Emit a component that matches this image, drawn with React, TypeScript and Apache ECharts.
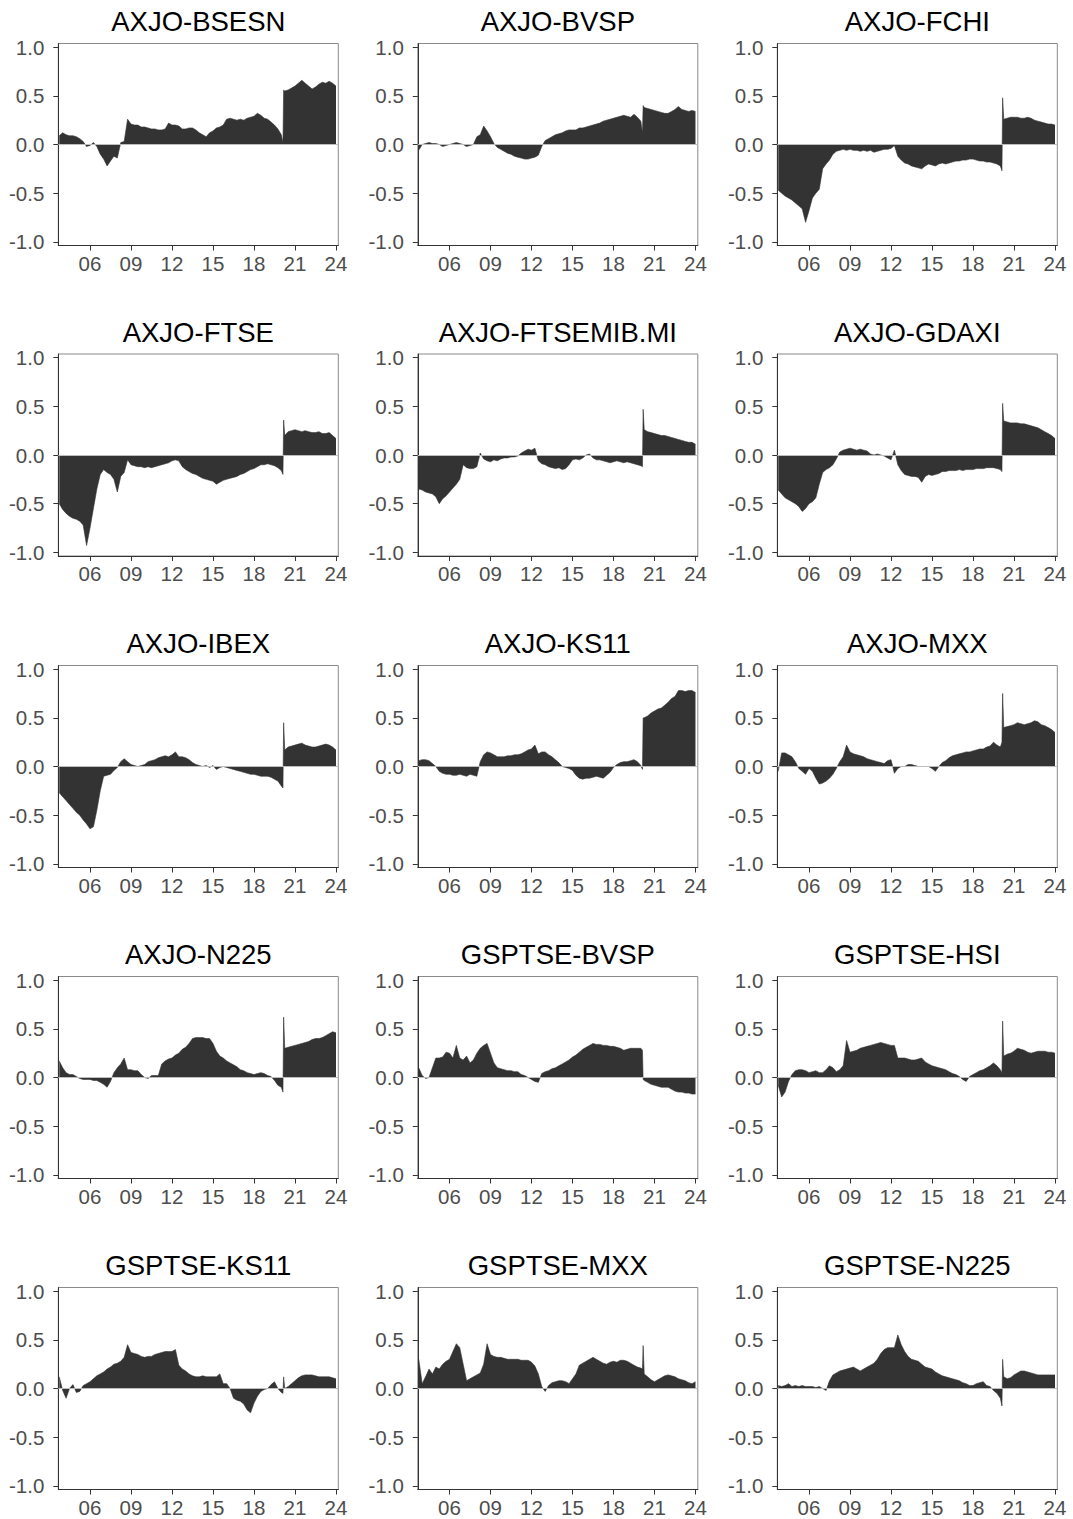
import React, { useEffect, useRef } from "react";
import * as echarts from "echarts";

// time index: quarterly from 2003.75, with extra points around the March 2020 break
const T: number[] = (() => {
  const t: number[] = [2003.75];
  for (let y = 2004; y <= 2019; y++) t.push(y, y + 0.25, y + 0.5, y + 0.75);
  t.push(2020, 2020.12, 2020.17, 2020.25, 2020.5, 2020.75);
  for (let y = 2021; y <= 2023; y++) t.push(y, y + 0.25, y + 0.5, y + 0.75);
  t.push(2024);
  return t;
})();

const X_TICKS = [2006, 2009, 2012, 2015, 2018, 2021, 2024];
const Y_TICKS = [-1, -0.5, 0, 0.5, 1];

const AXJO_BSESN = [0.09,
  0.12, 0.1, 0.09, 0.09,
  0.08, 0.06, 0.03, -0.02,
  -0.01, 0.02, -0.02, -0.1,
  -0.15, -0.22, -0.17, -0.12,
  -0.14, 0.02, 0.03, 0.26,
  0.21, 0.2, 0.2, 0.18,
  0.18, 0.17, 0.16, 0.16,
  0.15, 0.15, 0.16, 0.22,
  0.2, 0.2, 0.19, 0.16,
  0.16, 0.17, 0.17, 0.15,
  0.12, 0.1, 0.08, 0.12,
  0.14, 0.17, 0.18, 0.2,
  0.26, 0.27, 0.26, 0.25,
  0.26, 0.25, 0.27, 0.28,
  0.29, 0.32, 0.3, 0.27,
  0.26, 0.23, 0.2, 0.16,
  0.1, 0.02, 0.56, 0.55, 0.56, 0.58,
  0.6, 0.63, 0.66, 0.63,
  0.6, 0.57, 0.59, 0.62,
  0.64, 0.63, 0.65, 0.63,
  0.6];

const AXJO_BVSP = [-0.06,
  0.0, 0.01, 0.02, 0.01,
  0.01, 0.0, -0.02, -0.01,
  0.0, 0.01, 0.02, 0.01,
  0.0, -0.02, -0.01, 0.0,
  0.08, 0.1, 0.19, 0.14,
  0.08, 0.01, -0.03, -0.05,
  -0.07, -0.09, -0.1, -0.12,
  -0.13, -0.14, -0.15, -0.15,
  -0.14, -0.13, -0.11, -0.02,
  0.04, 0.06, 0.08, 0.1,
  0.11, 0.12, 0.14, 0.15,
  0.15, 0.15, 0.17, 0.17,
  0.18, 0.19, 0.2, 0.21,
  0.22, 0.24, 0.25, 0.26,
  0.27, 0.28, 0.29, 0.3,
  0.29, 0.28, 0.31, 0.28,
  0.24, 0.12, 0.4, 0.38, 0.37, 0.36,
  0.35, 0.34, 0.33, 0.32,
  0.32, 0.34, 0.36, 0.39,
  0.36, 0.35, 0.34, 0.35,
  0.34];

const AXJO_FCHI = [-0.47,
  -0.5, -0.53, -0.55, -0.57,
  -0.6, -0.63, -0.66, -0.8,
  -0.68, -0.55, -0.5, -0.46,
  -0.25, -0.2, -0.16, -0.1,
  -0.07, -0.06, -0.05, -0.06,
  -0.05, -0.06, -0.06, -0.07,
  -0.06, -0.07, -0.06, -0.08,
  -0.07, -0.06, -0.05, -0.05,
  -0.04, -0.01, -0.12, -0.16,
  -0.19, -0.2, -0.22, -0.23,
  -0.24, -0.25, -0.22, -0.2,
  -0.21, -0.22, -0.2, -0.19,
  -0.2, -0.19, -0.18, -0.17,
  -0.17, -0.16, -0.16, -0.15,
  -0.15, -0.16, -0.17, -0.17,
  -0.18, -0.18, -0.19, -0.2,
  -0.22, -0.27, 0.48, 0.26, 0.27, 0.28,
  0.28, 0.28, 0.27, 0.27,
  0.28, 0.27, 0.25, 0.24,
  0.23, 0.22, 0.21, 0.21,
  0.2];

const AXJO_FTSE = [-0.5,
  -0.56, -0.6, -0.63, -0.65,
  -0.66, -0.68, -0.72, -0.93,
  -0.75, -0.55, -0.35, -0.2,
  -0.15, -0.18, -0.2, -0.25,
  -0.38, -0.22, -0.18, -0.05,
  -0.1, -0.11, -0.12, -0.12,
  -0.13, -0.12, -0.13, -0.12,
  -0.11, -0.1, -0.09, -0.08,
  -0.06, -0.05, -0.06, -0.12,
  -0.15, -0.17, -0.19, -0.2,
  -0.22, -0.24, -0.25, -0.26,
  -0.27, -0.3, -0.28, -0.26,
  -0.25, -0.24, -0.23, -0.22,
  -0.2, -0.19, -0.17, -0.15,
  -0.14, -0.12, -0.1, -0.1,
  -0.09, -0.1, -0.11, -0.13,
  -0.16, -0.2, 0.36, 0.2, 0.24, 0.25,
  0.26, 0.25, 0.24, 0.25,
  0.24, 0.23, 0.23, 0.24,
  0.22, 0.22, 0.23, 0.2,
  0.17];

const AXJO_FTSEMIB = [-0.35,
  -0.36, -0.38, -0.39, -0.4,
  -0.43, -0.5, -0.45, -0.42,
  -0.38, -0.34, -0.3, -0.25,
  -0.1, -0.13, -0.14, -0.14,
  -0.12, 0.02, -0.04, -0.06,
  -0.07, -0.05, -0.06, -0.04,
  -0.03, -0.03, -0.02, -0.02,
  -0.01, 0.02, 0.04, 0.06,
  0.05, 0.07, -0.06, -0.09,
  -0.1, -0.12, -0.13, -0.14,
  -0.13, -0.15, -0.14, -0.1,
  -0.05, -0.04, -0.05, -0.03,
  0.0, 0.01, -0.03, -0.05,
  -0.05, -0.06, -0.07, -0.08,
  -0.07, -0.06, -0.07, -0.08,
  -0.07, -0.08, -0.09, -0.1,
  -0.11, -0.12, 0.47, 0.26, 0.24, 0.23,
  0.22, 0.21, 0.2, 0.2,
  0.19, 0.18, 0.17, 0.16,
  0.15, 0.14, 0.13, 0.13,
  0.11];

const AXJO_GDAXI = [-0.36,
  -0.4, -0.44, -0.46, -0.48,
  -0.5, -0.53, -0.58, -0.55,
  -0.5, -0.48, -0.44, -0.3,
  -0.18, -0.15, -0.13, -0.1,
  -0.04, 0.03, 0.05, 0.06,
  0.07, 0.06, 0.05, 0.06,
  0.05, 0.04, 0.01, 0.0,
  0.01, 0.0, -0.01, -0.03,
  -0.05, 0.05, -0.1, -0.16,
  -0.2, -0.21, -0.22, -0.22,
  -0.23, -0.28, -0.22, -0.2,
  -0.21, -0.2, -0.19, -0.17,
  -0.17, -0.16, -0.16, -0.16,
  -0.15, -0.16, -0.15, -0.15,
  -0.15, -0.14, -0.14, -0.14,
  -0.13, -0.13, -0.13, -0.14,
  -0.15, -0.17, 0.53, 0.35, 0.34, 0.33,
  0.33, 0.33, 0.32, 0.32,
  0.31, 0.3, 0.29, 0.28,
  0.26, 0.24, 0.22, 0.2,
  0.17];

const AXJO_IBEX = [-0.27,
  -0.31, -0.35, -0.39, -0.43,
  -0.47, -0.5, -0.55, -0.59,
  -0.64, -0.62, -0.45, -0.25,
  -0.1, -0.09, -0.08, -0.04,
  -0.01, 0.05, 0.08, 0.05,
  0.02, 0.01, 0.0, 0.01,
  0.02, 0.05, 0.06, 0.07,
  0.09, 0.1, 0.11, 0.1,
  0.12, 0.15, 0.1, 0.1,
  0.09, 0.07, 0.04, 0.02,
  0.01, 0.0, 0.01, -0.01,
  0.01, -0.03, -0.01, 0.0,
  -0.01, -0.02, -0.03, -0.04,
  -0.05, -0.06, -0.07, -0.08,
  -0.08, -0.09, -0.1, -0.1,
  -0.1, -0.11, -0.13, -0.15,
  -0.2, -0.22, 0.45, 0.17, 0.2, 0.21,
  0.22, 0.23, 0.24, 0.22,
  0.21, 0.2, 0.2, 0.21,
  0.22, 0.23, 0.22, 0.2,
  0.17];

const AXJO_KS11 = [0.06,
  0.07, 0.07, 0.06, 0.03,
  0.0, -0.05, -0.07, -0.08,
  -0.08, -0.09, -0.09, -0.08,
  -0.09, -0.1, -0.08, -0.09,
  -0.1, 0.05, 0.12, 0.15,
  0.14, 0.12, 0.1, 0.1,
  0.1, 0.11, 0.11, 0.12,
  0.12, 0.13, 0.15, 0.17,
  0.18, 0.22, 0.13, 0.15,
  0.15, 0.12, 0.1, 0.07,
  0.04, 0.0, -0.01, -0.02,
  -0.04, -0.09, -0.12, -0.13,
  -0.12, -0.12, -0.11, -0.1,
  -0.11, -0.12, -0.09, -0.06,
  -0.01, 0.02, 0.04, 0.05,
  0.05, 0.06, 0.07, 0.05,
  0.01, -0.03, 0.5, 0.5, 0.52, 0.55,
  0.57, 0.59, 0.6, 0.63,
  0.66, 0.7, 0.72, 0.78,
  0.78, 0.77, 0.78, 0.78,
  0.76];

const AXJO_MXX = [-0.05,
  0.14, 0.14, 0.12, 0.1,
  0.05, -0.02, -0.05, -0.08,
  -0.02, -0.05, -0.12, -0.18,
  -0.17, -0.15, -0.12, -0.08,
  -0.02, 0.05, 0.1, 0.22,
  0.15, 0.13, 0.12, 0.11,
  0.1, 0.08, 0.07, 0.06,
  0.05, 0.04, 0.03, 0.06,
  0.07, -0.07, -0.02, 0.0,
  0.0, 0.02, 0.02, 0.01,
  0.0, 0.0, 0.0, 0.0,
  -0.02, -0.05, 0.0, 0.04,
  0.06, 0.09, 0.11, 0.12,
  0.13, 0.14, 0.15, 0.15,
  0.16, 0.17, 0.18, 0.18,
  0.2, 0.21, 0.25, 0.22,
  0.2, 0.25, 0.75, 0.4, 0.41, 0.42,
  0.43, 0.45, 0.44, 0.43,
  0.44, 0.45, 0.47, 0.46,
  0.43, 0.42, 0.4, 0.38,
  0.35];

const AXJO_N225 = [0.17,
  0.1, 0.05, 0.03, 0.03,
  0.01, -0.01, -0.02, -0.02,
  -0.02, -0.03, -0.03, -0.05,
  -0.07, -0.1, -0.04, 0.05,
  0.1, 0.14, 0.2, 0.08,
  0.08, 0.07, 0.07, 0.03,
  0.0, -0.01, 0.02, 0.02,
  0.02, 0.14, 0.17, 0.19,
  0.2, 0.23, 0.25, 0.29,
  0.31, 0.35, 0.4, 0.41,
  0.41, 0.41, 0.4, 0.4,
  0.35, 0.27, 0.22, 0.2,
  0.17, 0.15, 0.13, 0.11,
  0.08, 0.07, 0.05, 0.04,
  0.03, 0.04, 0.05, 0.04,
  0.02, 0.01, -0.03, -0.08,
  -0.1, -0.15, 0.62, 0.3, 0.31, 0.32,
  0.33, 0.34, 0.35, 0.36,
  0.37, 0.39, 0.4, 0.4,
  0.41, 0.43, 0.45, 0.47,
  0.46];

const GSPTSE_BVSP = [0.1,
  0.02, -0.01, 0.0, 0.1,
  0.2, 0.2, 0.21, 0.26,
  0.25, 0.2, 0.33, 0.2,
  0.18, 0.22, 0.15, 0.18,
  0.25, 0.3, 0.33, 0.35,
  0.25, 0.15, 0.1, 0.09,
  0.08, 0.07, 0.07, 0.06,
  0.06, 0.03, 0.02, 0.0,
  -0.02, -0.04, -0.05, 0.04,
  0.06, 0.07, 0.09, 0.1,
  0.12, 0.14, 0.16, 0.18,
  0.21, 0.23, 0.26, 0.29,
  0.31, 0.33, 0.35, 0.34,
  0.34, 0.33, 0.33, 0.32,
  0.32, 0.31, 0.3, 0.28,
  0.29, 0.3, 0.3, 0.3,
  0.3, 0.28, -0.02, -0.03, -0.05, -0.07,
  -0.08, -0.09, -0.1, -0.1,
  -0.1, -0.12, -0.14, -0.15,
  -0.15, -0.16, -0.16, -0.17,
  -0.17];

const GSPTSE_HSI = [-0.08,
  -0.2, -0.15, -0.04, 0.03,
  0.07, 0.08, 0.08, 0.07,
  0.05, 0.06, 0.07, 0.05,
  0.05, 0.08, 0.12, 0.1,
  0.06, 0.08, 0.12, 0.38,
  0.26, 0.27, 0.28, 0.3,
  0.31, 0.32, 0.33, 0.34,
  0.35, 0.36, 0.35, 0.34,
  0.33, 0.33, 0.2, 0.2,
  0.2, 0.19, 0.18, 0.18,
  0.19, 0.2, 0.16, 0.14,
  0.12, 0.11, 0.1, 0.09,
  0.08, 0.06, 0.04, 0.03,
  0.01, -0.02, -0.04, 0.01,
  0.03, 0.05, 0.07, 0.08,
  0.1, 0.12, 0.15, 0.12,
  0.08, 0.05, 0.58, 0.22, 0.24, 0.25,
  0.27, 0.3, 0.29, 0.28,
  0.26, 0.25, 0.26, 0.27,
  0.27, 0.27, 0.26, 0.26,
  0.25];

const GSPTSE_KS11 = [0.12,
  -0.02, -0.1, 0.0, 0.04,
  -0.04, -0.03, 0.03, 0.05,
  0.07, 0.1, 0.13, 0.15,
  0.17, 0.2, 0.22, 0.25,
  0.26, 0.28, 0.32, 0.45,
  0.37, 0.36, 0.35, 0.33,
  0.32, 0.33, 0.33, 0.35,
  0.36, 0.37, 0.38, 0.38,
  0.38, 0.4, 0.24, 0.2,
  0.18, 0.15, 0.13, 0.12,
  0.12, 0.13, 0.12, 0.12,
  0.12, 0.12, 0.15, 0.05,
  0.05, 0.0, -0.1, -0.12,
  -0.13, -0.16, -0.22, -0.25,
  -0.15, -0.08, -0.03, -0.01,
  0.0, 0.04, 0.07, 0.0,
  -0.04, -0.05, 0.12, 0.0, 0.02, 0.05,
  0.08, 0.11, 0.13, 0.14,
  0.14, 0.14, 0.13, 0.12,
  0.12, 0.12, 0.12, 0.11,
  0.1];

const GSPTSE_MXX = [0.3,
  0.05, 0.12, 0.2, 0.15,
  0.22, 0.2, 0.25, 0.28,
  0.3, 0.38, 0.46, 0.42,
  0.25, 0.08, 0.1, 0.12,
  0.14, 0.16, 0.25, 0.46,
  0.35, 0.33, 0.32, 0.32,
  0.31, 0.3, 0.3, 0.3,
  0.3, 0.29, 0.29, 0.29,
  0.27, 0.23, 0.15, 0.02,
  -0.03, 0.03, 0.06, 0.07,
  0.08, 0.08, 0.07, 0.05,
  0.1, 0.15, 0.24, 0.26,
  0.28, 0.3, 0.32, 0.3,
  0.28, 0.26, 0.25, 0.27,
  0.28, 0.27, 0.29, 0.29,
  0.28, 0.26, 0.24, 0.22,
  0.21, 0.2, 0.44, 0.15, 0.12, 0.09,
  0.07, 0.09, 0.11, 0.13,
  0.14, 0.13, 0.12, 0.1,
  0.09, 0.08, 0.06, 0.05,
  0.07];

const GSPTSE_N225 = [0.03,
  0.02, 0.03, 0.05, 0.02,
  0.03, 0.02, 0.03, 0.02,
  0.02, 0.02, 0.01, 0.02,
  0.0, -0.02, 0.08, 0.14,
  0.16, 0.18, 0.19, 0.2,
  0.21, 0.22, 0.2, 0.18,
  0.2, 0.22, 0.24, 0.26,
  0.3, 0.36, 0.4, 0.42,
  0.42, 0.42, 0.55, 0.45,
  0.38, 0.33, 0.3, 0.29,
  0.28, 0.25, 0.22, 0.21,
  0.2, 0.17, 0.15, 0.13,
  0.12, 0.11, 0.1, 0.09,
  0.08, 0.06, 0.05, 0.03,
  0.03, 0.05, 0.06, 0.07,
  0.03, 0.02, -0.02, -0.05,
  -0.1, -0.18, 0.3, 0.12, 0.1, 0.11,
  0.14, 0.16, 0.18, 0.18,
  0.17, 0.16, 0.15, 0.14,
  0.14, 0.14, 0.14, 0.14,
  0.14];

const PANEL_NAMES = [
  "AXJO-BSESN", "AXJO-BVSP", "AXJO-FCHI",
  "AXJO-FTSE", "AXJO-FTSEMIB.MI", "AXJO-GDAXI",
  "AXJO-IBEX", "AXJO-KS11", "AXJO-MXX",
  "AXJO-N225", "GSPTSE-BVSP", "GSPTSE-HSI",
  "GSPTSE-KS11", "GSPTSE-MXX", "GSPTSE-N225",
];
const PANEL_VALUES = [
  AXJO_BSESN, AXJO_BVSP, AXJO_FCHI,
  AXJO_FTSE, AXJO_FTSEMIB, AXJO_GDAXI,
  AXJO_IBEX, AXJO_KS11, AXJO_MXX,
  AXJO_N225, GSPTSE_BVSP, GSPTSE_HSI,
  GSPTSE_KS11, GSPTSE_MXX, GSPTSE_N225,
];

const FONT = "'Liberation Sans', Arial, Helvetica, sans-serif";

function buildOption() {
  const colLeft = [58.3, 417.8, 777.3];
  const rowTop = [43.5, 354, 665.5, 976.5, 1287.5];
  const W = 280;
  const H = 202;
  const grids: any[] = [];
  const xAxes: any[] = [];
  const yAxes: any[] = [];
  const series: any[] = [];
  const titles: any[] = [];
  PANEL_NAMES.forEach((name, i) => {
    const r = Math.floor(i / 3);
    const c = i % 3;
    grids.push({
      left: colLeft[c], top: rowTop[r], width: W, height: H,
      show: true, borderColor: "#8a8a8a", borderWidth: 1,
      backgroundColor: "transparent",
    });
    titles.push({
      text: name,
      left: colLeft[c] + W / 2,
      top: rowTop[r] - 36,
      textAlign: "center",
      padding: 0,
      textStyle: { fontFamily: FONT, fontSize: 27.5, fontWeight: "normal", color: "#000" },
    });
    xAxes.push({
      type: "value", gridIndex: i, min: 2003.68, max: 2024.17,
      axisLine: { show: true, onZero: false, lineStyle: { color: "#333", width: 1 } },
      axisTick: { show: true, length: 5, customValues: X_TICKS, lineStyle: { color: "#333", width: 1 } },
      axisLabel: {
        customValues: X_TICKS, margin: 7, color: "#4d4d4d", fontSize: 20.5, fontFamily: FONT,
        formatter: (v: number) => String(Math.round(v) % 100).padStart(2, "0"),
      },
      splitLine: { show: false },
    });
    yAxes.push({
      type: "value", gridIndex: i, min: -1.038, max: 1.038,
      axisLine: { show: true, onZero: false, lineStyle: { color: "#333", width: 1 } },
      axisTick: { show: true, length: 5, customValues: Y_TICKS, lineStyle: { color: "#333", width: 1 } },
      axisLabel: {
        customValues: Y_TICKS, margin: 14, color: "#4d4d4d", fontSize: 20.5, fontFamily: FONT,
        formatter: (v: number) => v.toFixed(1),
      },
      splitLine: { show: false },
    });
    const vals = PANEL_VALUES[i];
    series.push({
      type: "line", xAxisIndex: i, yAxisIndex: i,
      data: T.map((t, j) => [t, vals[j]]),
      showSymbol: false, symbol: "none",
      lineStyle: { color: "#333333", width: 0.6 },
      areaStyle: { color: "#333333", opacity: 1, origin: 0 },
      markLine: {
        silent: true, symbol: "none", label: { show: false },
        lineStyle: { color: "#bdbdbd", width: 1, type: "solid" },
        data: [{ yAxis: 0 }],
      },
    });
  });
  return {
    animation: false,
    backgroundColor: "#ffffff",
    title: titles,
    grid: grids,
    xAxis: xAxes,
    yAxis: yAxes,
    series,
  };
}

export default function App() {
  const ref = useRef<HTMLDivElement>(null);
  useEffect(() => {
    if (!ref.current) return;
    const chart = echarts.init(ref.current, undefined, { renderer: "svg" });
    chart.setOption(buildOption() as any);
    return () => chart.dispose();
  }, []);
  return (
    <div
      ref={ref}
      style={{ position: "absolute", left: 0, top: 0, width: 1073, height: 1519 }}
    />
  );
}
